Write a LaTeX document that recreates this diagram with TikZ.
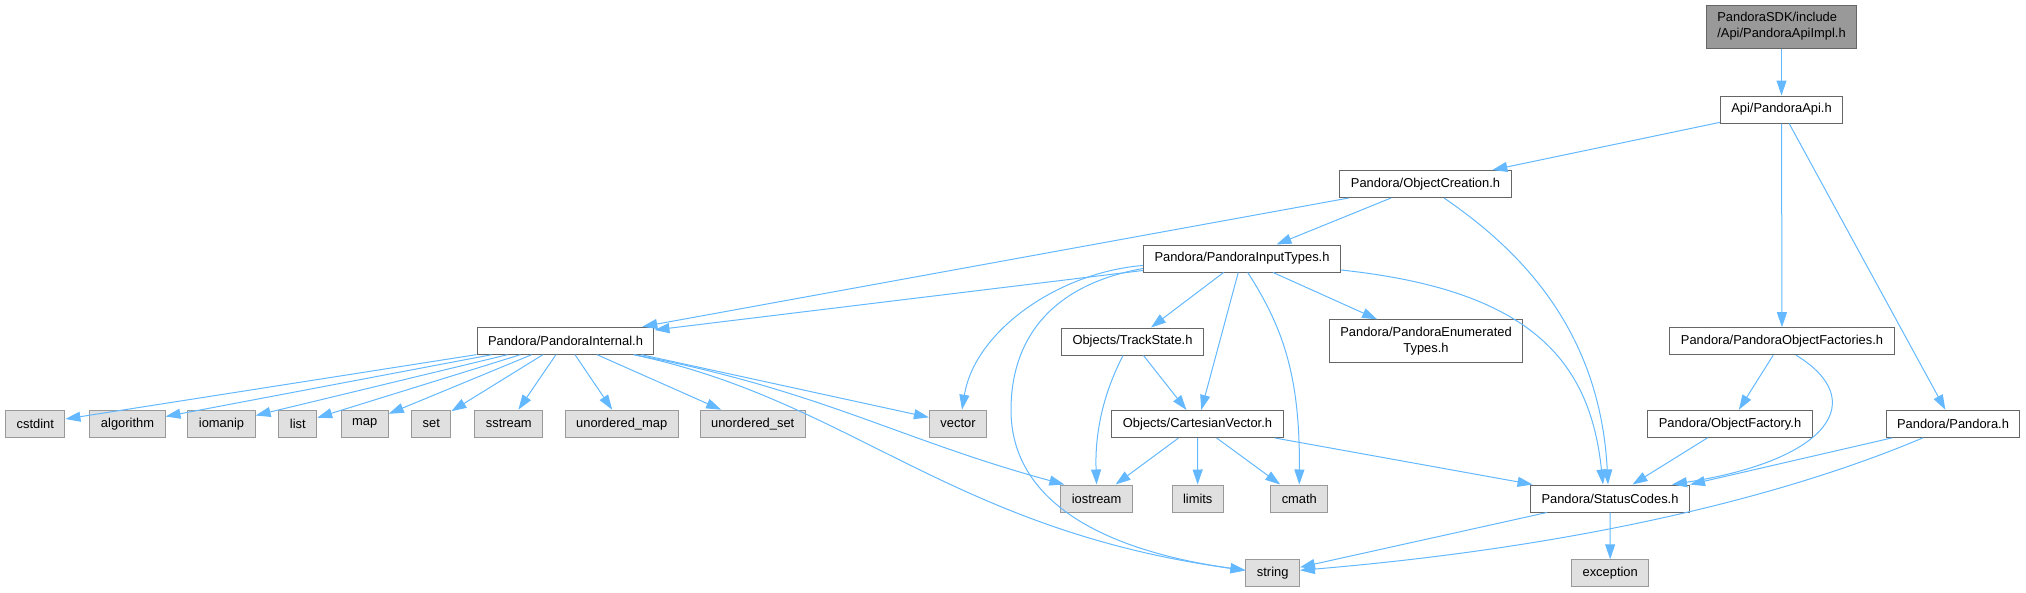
\documentclass[tikz,border=0pt]{standalone}
\usepackage{fontspec}
\setmainfont{Liberation Sans}
\usetikzlibrary{arrows.meta,positioning,calc}
\definecolor{edgeblue}{HTML}{63B8FF}
\definecolor{nodeborder}{HTML}{666666}
\definecolor{sysborder}{HTML}{999999}
\definecolor{sysfill}{HTML}{E0E0E0}
\definecolor{rootfill}{HTML}{999999}

\begin{document}
\begin{tikzpicture}[
    x=1pt, y=-1pt,
    header/.style={rectangle, draw=nodeborder, fill=white, line width=1pt, inner xsep=11pt, inner ysep=2pt, minimum height=27pt, font=\fontsize{12.9}{16}\selectfont},
    sysheader/.style={header, draw=sysborder, fill=sysfill},
    rootheader/.style={header, fill=rootfill, minimum height=43pt, align=left},
    edge/.style={draw, line width=1pt, color=edgeblue, -{Triangle[length=15pt,width=10pt]}}
]
\useasboundingbox (0,0) rectangle (2026,592);

% Define node positions
\node[rootheader] (SDK) at (1781.5, 26.5) {PandoraSDK/include\\/Api/PandoraApiImpl.h};
\node[header] (Api) at (1781.5, 109.5) {Api/PandoraApi.h};
\node[header] (ObjCreation) at (1425.5, 184) {Pandora/ObjectCreation.h};
\node[header] (InputTypes) at (1242, 258.5) {Pandora/PandoraInputTypes.h};
\node[header] (Internal) at (565.5, 340.7) {Pandora/PandoraInternal.h};
\node[header] (TrackState) at (1132.5, 341.5) {Objects/TrackState.h};
\node[header, minimum height=43pt, align=center] (Enumerated) at (1426, 341.3) {Pandora/PandoraEnumerated\\Types.h};
\node[header] (ObjFactories) at (1782, 341.2) {Pandora/PandoraObjectFactories.h};
\node[header] (ObjFactory) at (1730, 423.8) {Pandora/ObjectFactory.h};
\node[header] (Pandora) at (1953, 423.8) {Pandora/Pandora.h};
\node[header] (CartVec) at (1197.5, 424) {Objects/CartesianVector.h};
\node[header] (StatusCodes) at (1610, 498.5) {Pandora/StatusCodes.h};

% System headers
\node[sysheader] (cstdint) at (35.3, 423.7) {cstdint};
\node[sysheader] (algorithm) at (127.5, 423.7) {algorithm};
\node[sysheader] (iomanip) at (221.5, 423.7) {iomanip};
\node[sysheader] (list) at (297.8, 423.7) {list};
\node[sysheader] (map) at (364.7, 423.7) {map};
\node[sysheader] (set) at (431.3, 423.7) {set};
\node[sysheader] (sstream) at (508.8, 423.7) {sstream};
\node[sysheader] (umap) at (621.7, 423.7) {unordered\_map};
\node[sysheader] (uset) at (752.7, 423.7) {unordered\_set};
\node[sysheader] (vector) at (958, 423.7) {vector};
\node[sysheader] (iostream) at (1096.6, 498.5) {iostream};
\node[sysheader] (limits) at (1197.7, 498.5) {limits};
\node[sysheader] (cmath) at (1299.3, 498.5) {cmath};
\node[sysheader] (string) at (1272.7, 573.3) {string};
\node[sysheader] (exception) at (1610.2, 573.3) {exception};

% Top of the graph
\draw[edge] (SDK) -- (Api);
\draw[edge] (Api) -- (ObjCreation);
\draw[edge] (Api) -- (ObjFactories);
\draw[edge] (Api) -- (Pandora);

% ObjectCreation.h includes
\draw[edge] (ObjCreation) -- (Internal);
\draw[edge] (ObjCreation) -- (InputTypes);
\draw[edge] ([xshift=18.5pt]ObjCreation.south) .. controls (1520,250) and (1600,330) .. ([xshift=-2pt]StatusCodes.north);

% PandoraInputTypes.h includes
\draw[edge] (InputTypes) -- (Internal);
\draw[edge] ([yshift=-7pt]InputTypes.west) .. controls (1060,272) and (975,330) .. ([xshift=4pt]vector.north);
\draw[edge] ([yshift=-10pt]InputTypes.west) .. controls (1050,285) and (1011,340) .. (1011,410) .. controls (1011,500) and (1100,550) .. ([yshift=3pt]string.west);
\draw[edge] (InputTypes) -- (TrackState);
\draw[edge] (InputTypes) -- (CartVec);
\draw[edge] ([xshift=5.7pt]InputTypes.south) .. controls (1285,330) and (1300,380) .. (cmath.north);
\draw[edge] (InputTypes) -- (Enumerated);
\draw[edge] ([yshift=-11.5pt]InputTypes.east) .. controls (1530,290) and (1590,360) .. ([xshift=-7pt]StatusCodes.north);

% PandoraInternal.h includes
\draw[edge] (Internal) -- (cstdint);
\draw[edge] (Internal) -- (algorithm);
\draw[edge] (Internal) -- (iomanip);
\draw[edge] (Internal) -- (list);
\draw[edge] (Internal) -- (map);
\draw[edge] (Internal) -- (set);
\draw[edge] (Internal) -- (sstream);
\draw[edge] (Internal) -- (umap);
\draw[edge] (Internal) -- (uset);
\draw[edge] ([xshift=-13pt]Internal.south east) -- (vector);
\draw[edge] ([xshift=-20pt]Internal.south east) .. controls (820,390) and (900,440) .. ([xshift=4pt]iostream.north west);
\draw[edge] ([xshift=-21pt]Internal.south east) .. controls (850,400) and (950,530) .. ([yshift=3pt]string.west);

% TrackState.h and CartesianVector.h includes
\draw[edge] ([xshift=-9.5pt]TrackState.south) .. controls (1100,400) and (1095,440) .. (iostream.north);
\draw[edge] (TrackState) -- (CartVec);
\draw[edge] (CartVec) -- (iostream);
\draw[edge] (CartVec) -- (limits);
\draw[edge] (CartVec) -- (cmath);
\draw[edge] (CartVec) -- (StatusCodes);

% Factories and Pandora.h
\draw[edge] (ObjFactories) -- (ObjFactory);
\draw[edge] ([xshift=14pt]ObjFactories.south) .. controls (1870,400) and (1830,460) .. ([xshift=-18pt]StatusCodes.north east);
\draw[edge] (ObjFactory) -- (StatusCodes);
\draw[edge] (Pandora) -- (StatusCodes.north east);
\draw[edge] ([xshift=-30pt]Pandora.south) .. controls (1800,490) and (1600,545) .. ([yshift=3pt]string.east);

% StatusCodes.h includes
\draw[edge] (StatusCodes) -- (string);
\draw[edge] (StatusCodes) -- (exception);

\end{tikzpicture}
\end{document}
